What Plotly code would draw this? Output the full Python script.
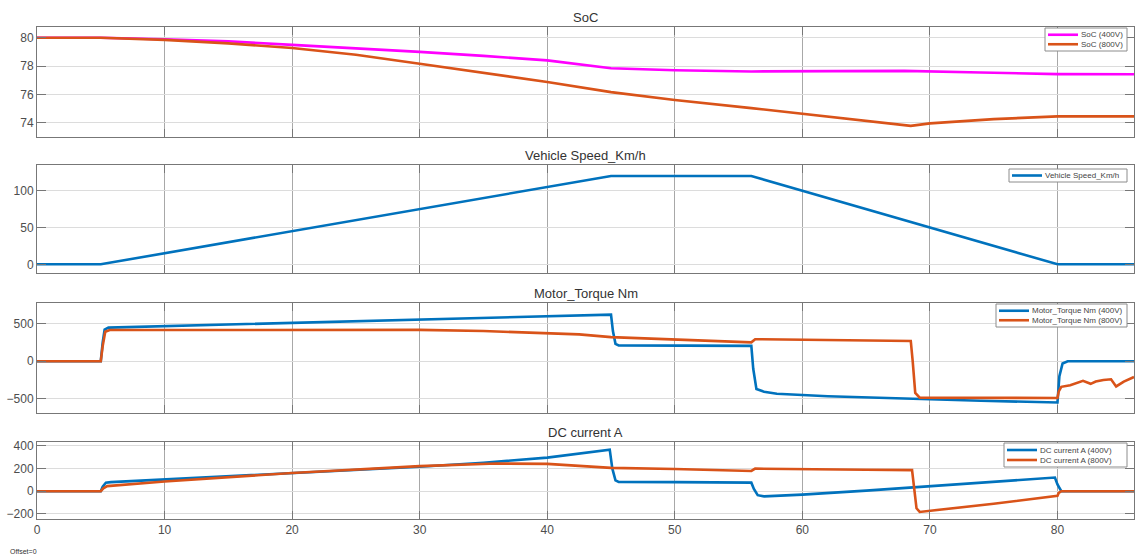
import plotly.graph_objects as go

# ---- time-series values (time in s) ----
soc_t = [0, 5, 10, 15, 20, 25, 30, 35, 40, 45, 50, 56, 62, 68, 74, 80, 86]
soc_400 = [80, 80, 79.9, 79.75, 79.5, 79.27, 79.0, 78.72, 78.4, 77.85, 77.7, 77.62, 77.65, 77.66, 77.55, 77.43, 77.42]

soc800_t = [0, 5, 10, 15, 20, 25, 30, 35, 40, 45, 50, 56, 62, 68.5, 70, 75, 80, 86]
soc_800 = [80, 80, 79.85, 79.6, 79.28, 78.8, 78.17, 77.52, 76.88, 76.16, 75.6, 75.03, 74.45, 73.78, 73.95, 74.25, 74.45, 74.45]

speed_t = [0, 5, 45, 56, 80, 86]
speed = [0, 0, 120, 120, 0, 0]

tq400_t = [0, 5.0, 5.15, 5.3, 5.6, 15, 25, 35, 45.0, 45.15, 45.35, 45.6, 50, 56.0, 56.15,
           56.4, 57, 58, 62, 68, 74, 80.0, 80.15, 80.4, 80.8, 86]
tq_400 = [0, 0, 250, 420, 445, 485, 528, 570, 618, 400, 230, 210, 207, 203, -100,
          -370, -405, -432, -465, -500, -525, -547, -200, -30, 0, 0]

tq800_t = [0, 5.0, 5.15, 5.35, 5.7, 20, 30, 35, 40, 42.5, 45, 50, 56.0, 56.3, 60, 64, 68.5,
           68.65, 68.85, 69.2, 75, 80.0, 80.1, 80.3, 81, 81.5, 82, 82.6, 83, 83.6, 84.2,
           84.6, 85.2, 86]
tq_800 = [0, 0, 200, 390, 413, 413, 415, 400, 372, 356, 320, 285, 250, 292, 285, 278, 268,
          0, -420, -484, -486, -488, -400, -340, -320, -290, -260, -300, -270, -250, -240,
          -335, -270, -210]

dc400_t = [0, 5.0, 5.15, 5.4, 5.8, 10, 20, 30, 35, 40, 44.9, 45.1, 45.35, 45.6, 50, 56.0,
           56.2, 56.5, 57, 60, 65, 70, 75, 79.8, 80.0, 80.3, 86]
dc_400 = [0, 0, 40, 75, 80, 103, 160, 215, 250, 295, 365, 200, 95, 82, 80, 75,
          20, -35, -45, -30, 5, 45, 85, 120, 60, 0, 0]

dc800_t = [0, 5.0, 5.2, 5.5, 10, 20, 30, 36, 40, 45, 50, 56.0, 56.3, 60, 65, 68.6, 68.75,
           68.95, 69.2, 72, 75, 80.0, 80.1, 80.3, 86]
dc_800 = [0, 0, 25, 45, 85, 160, 220, 243, 240, 205, 195, 178, 198, 192, 188, 185, 50,
          -150, -182, -150, -110, -40, -15, 0, 0]

x_ticks = [0, 10, 20, 30, 40, 50, 60, 70, 80]
panel_titles = ["SoC", "Vehicle Speed_Km/h", "Motor_Torque Nm", "DC current A"]

BLUE = "#0072BD"
ORANGE = "#D95319"
MAGENTA = "#FF00FF"
FONT = "Liberation Sans, Arial, sans-serif"

fig = go.Figure()

# (x, y, color, name, panel index)
series = [
    (soc_t, soc_400, MAGENTA, "SoC (400V)", 0),
    (soc800_t, soc_800, ORANGE, "SoC (800V)", 0),
    (speed_t, speed, BLUE, "Vehicle Speed_Km/h", 1),
    (tq400_t, tq_400, BLUE, "Motor_Torque Nm (400V)", 2),
    (tq800_t, tq_800, ORANGE, "Motor_Torque Nm (800V)", 2),
    (dc400_t, dc_400, BLUE, "DC current A (400V)", 3),
    (dc800_t, dc_800, ORANGE, "DC current A (800V)", 3),
]
for x, y, c, name, k in series:
    suffix = "" if k == 0 else str(k + 1)
    fig.add_trace(go.Scatter(
        x=x, y=y, mode="lines", name=name,
        line=dict(color=c, width=2.6),
        xaxis="x" + suffix, yaxis="y" + suffix, showlegend=False,
    ))

# plot-area geometry in pixels
W, H = 1135, 557
ML, MR, MT, MB = 37, 1, 27, 38
PW = W - ML - MR
PH = H - MT - MB
panels_px = [(27, 137), (165, 273), (303, 413), (442, 519)]
y_ranges = [[72.99, 80.76], [-11.8, 134.9], [-687, 772], [-244, 432]]
y_ticks = [[74, 76, 78, 80], [0, 50, 100], [-500, 0, 500], [-200, 0, 200, 400]]

# compact legend boxes: (left px, top px, row height px)
legend_boxes = [(1045, 28, 9.5), (1009, 169, 13), (996, 304, 9.5), (1004, 443, 10)]
LEG_RIGHT = 1127


def xf(px):
    return (px - ML) / PW


def yf(px):
    return (H - MB - px) / PH


axis_line = "#777777"
tick_font = dict(family=FONT, size=12, color="#4d4d4d")

layout = dict(
    width=W, height=H,
    margin=dict(l=ML, r=MR, t=MT, b=MB),
    paper_bgcolor="white", plot_bgcolor="white",
    showlegend=False,
    annotations=[], shapes=[],
)

for i in range(4):
    suffix = "" if i == 0 else str(i + 1)
    top, bot = panels_px[i]
    layout["xaxis" + suffix] = dict(
        domain=[0, 1], anchor="y" + suffix, range=[0, 86],
        tickvals=x_ticks, showticklabels=(i == 3),
        ticks="inside", ticklen=8, tickcolor=axis_line,
        showgrid=True, gridcolor="#a8a8a8", gridwidth=1,
        showline=True, linecolor=axis_line, linewidth=1, mirror="ticks",
        zeroline=False, tickfont=tick_font,
        **({} if i == 0 else {"matches": "x"}),
    )
    layout["yaxis" + suffix] = dict(
        domain=[yf(bot), yf(top)], anchor="x" + suffix,
        range=y_ranges[i], tickvals=y_ticks[i],
        ticks="inside", ticklen=9, tickcolor=axis_line,
        showgrid=True, gridcolor="#dcdcdc", gridwidth=1,
        showline=True, linecolor=axis_line, linewidth=1, mirror="ticks",
        zeroline=False, tickfont=tick_font,
    )
    layout["annotations"].append(dict(
        text=panel_titles[i], xref="paper", yref="paper",
        x=0.5, y=yf(top), yshift=0, xanchor="center", yanchor="bottom",
        showarrow=False, font=dict(family=FONT, size=13, color="#333333"),
    ))

# legends drawn as boxes, line samples and labels
for i in range(4):
    left, top, row = legend_boxes[i]
    entries = [s for s in series if s[4] == i]
    n = len(entries)
    bottom = top + 4 + row * n if n > 1 else top + row
    layout["shapes"].append(dict(
        type="rect", xref="paper", yref="paper",
        x0=xf(left), x1=xf(LEG_RIGHT), y0=yf(bottom), y1=yf(top),
        line=dict(color="#8c8c8c", width=1), fillcolor="white", layer="above",
    ))
    for j, (_, _, c, name, _) in enumerate(entries):
        ymid = top + (2 + row * (j + 0.5) if n > 1 else row / 2)
        layout["shapes"].append(dict(
            type="line", xref="paper", yref="paper",
            x0=xf(left + 3), x1=xf(left + 33), y0=yf(ymid), y1=yf(ymid),
            line=dict(color=c, width=2.6), layer="above",
        ))
        layout["annotations"].append(dict(
            text=name, xref="paper", yref="paper",
            x=xf(left + 34.5), y=yf(ymid), xanchor="left", yanchor="middle",
            showarrow=False, borderpad=0,
            font=dict(family=FONT, size=8, color="#444444"),
        ))

layout["annotations"].append(dict(
    text="Offset=0", xref="paper", yref="paper",
    x=xf(8), y=0, yshift=-32,
    xanchor="left", yanchor="middle", showarrow=False,
    font=dict(family=FONT, size=7, color="#333333"),
))

fig.update_layout(**layout)
fig.write_html("out.html")
